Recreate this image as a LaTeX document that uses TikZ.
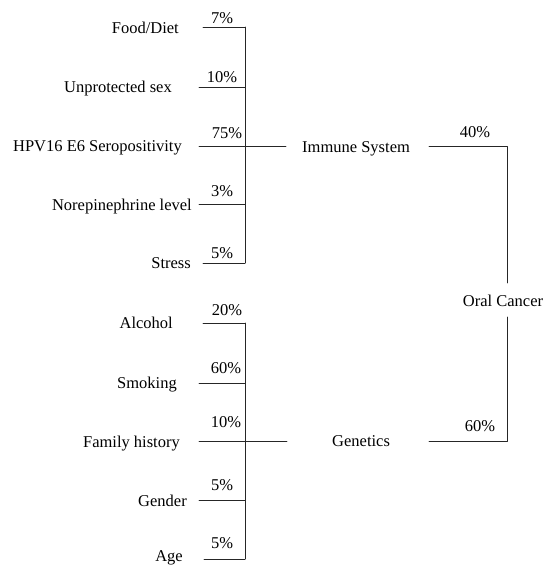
\documentclass[tikz,border=0pt]{standalone}
\usepackage{fontspec}
\setmainfont{Liberation Serif}

\begin{document}
\begin{tikzpicture}[line cap=round,line join=round,x=1pt,y=-1pt,
  lbl/.style={anchor=base east,inner sep=0pt,font=\fontsize{16.5}{18}\selectfont},
  pct/.style={anchor=base,inner sep=0pt,font=\fontsize{16.5}{18}\selectfont},
  ln/.style={line width=0.9pt,black!85}]
\useasboundingbox (0,0) rectangle (545,565);
% immune system branch
\coordinate (trunkA) at (245,27);
\coordinate (trunkA-end) at (245,263);
\draw [ln] (trunkA)--(trunkA-end);
\node [lbl] (food) at (179,33) {Food/Diet};
\coordinate (food-l) at (203,27);
\draw [ln] (food-l)--(trunkA |- food-l);
\node [pct] (p-food) at (222,23) {7\%};
\node [lbl] (sex) at (172,92) {Unprotected sex};
\coordinate (sex-l) at (199,87);
\draw [ln] (sex-l)--(trunkA |- sex-l);
\node [pct] (p-sex) at (222,82) {10\%};
\node [lbl] (hpv) at (182,151) {HPV16 E6 Seropositivity};
\coordinate (hpv-l) at (199,146);
\draw [ln] (hpv-l)--(trunkA |- hpv-l);
\node [pct] (p-hpv) at (227,138) {75\%};
\node [lbl] (norep) at (192,210) {Norepinephrine level};
\coordinate (norep-l) at (199,204);
\draw [ln] (norep-l)--(trunkA |- norep-l);
\node [pct] (p-norep) at (222,196) {3\%};
\node [lbl] (stress) at (191,268) {Stress};
\coordinate (stress-l) at (203,263);
\draw [ln] (stress-l)--(trunkA-end);
\node [pct] (p-stress) at (222,258) {5\%};
% genetics branch
\coordinate (trunkB) at (245,323);
\coordinate (trunkB-end) at (245,559);
\draw [ln] (trunkB)--(trunkB-end);
\node [lbl] (alcohol) at (173,328) {Alcohol};
\coordinate (alcohol-l) at (203,323);
\draw [ln] (alcohol-l)--(trunkB);
\node [pct] (p-alcohol) at (227,315) {20\%};
\node [lbl] (smoking) at (177,388) {Smoking};
\coordinate (smoking-l) at (199,383);
\draw [ln] (smoking-l)--(trunkB |- smoking-l);
\node [pct] (p-smoking) at (226,373) {60\%};
\node [lbl] (family) at (180,447) {Family history};
\coordinate (family-l) at (199,441);
\draw [ln] (family-l)--(trunkB |- family-l);
\node [pct] (p-family) at (226,427) {10\%};
\node [lbl] (gender) at (187,506) {Gender};
\coordinate (gender-l) at (199,500);
\draw [ln] (gender-l)--(trunkB |- gender-l);
\node [pct] (p-gender) at (222,490) {5\%};
\node [lbl] (age) at (183,561) {Age};
\coordinate (age-l) at (204,559);
\draw [ln] (age-l)--(trunkB-end);
\node [pct] (p-age) at (222,548) {5\%};
% middle and right
\node [lbl,anchor=base west] (immune) at (302,152) {Immune System};
\coordinate (immune-l) at (286,146);
\coordinate (immune-r) at (429,146);
\draw [ln] (trunkA |- hpv-l)--(immune-l);
\node [lbl,anchor=base west] (genetics) at (332,446) {Genetics};
\coordinate (genetics-l) at (287,441);
\coordinate (genetics-r) at (429,441);
\draw [ln] (trunkB |- family-l)--(genetics-l);
\node [pct] (oral) at (503,306) {Oral Cancer};
\coordinate (oral-t) at (507,283);
\coordinate (oral-b) at (507,317);
\draw [ln] (immune-r)--(oral-t |- immune-r)--(oral-t);
\draw [ln] (genetics-r)--(oral-b |- genetics-r)--(oral-b);
\node [pct] (p-immune) at (475,137) {40\%};
\node [pct] (p-genetics) at (480,431) {60\%};
\end{tikzpicture}
\end{document}
